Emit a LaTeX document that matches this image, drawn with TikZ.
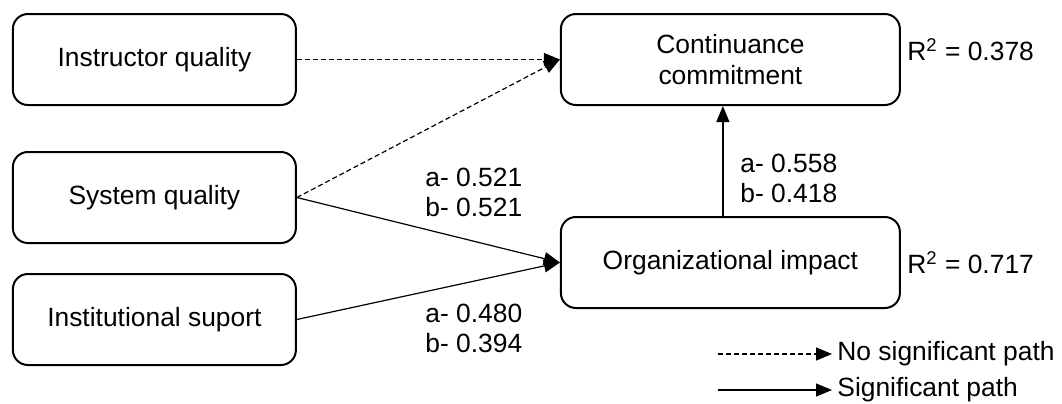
\documentclass[tikz,border=0pt]{standalone}
\usepackage{fontspec}
\setmainfont{Liberation Sans}
\usetikzlibrary{positioning}
\usetikzlibrary{arrows.meta}
\tikzset{construct/.style={rectangle,draw=black,fill=white,line width=1pt,rounded corners=7.5pt,minimum width=141.5pt,minimum height=45.5pt,align=center,font=\fontsize{13.2}{15.5}\selectfont}}
\tikzset{sig/.style={draw=black,line width=0.6pt,->}}
\tikzset{nonsig/.style={sig,dash pattern=on 2.5pt off 1.5pt}}
\tikzset{coef/.style={align=left,anchor=west,inner sep=0pt,font=\fontsize{13.2}{15}\selectfont}}
\tikzset{legend/.style={anchor=west,inner sep=2.5pt,font=\fontsize{13.2}{15}\selectfont}}

\begin{document}
\begin{tikzpicture}[>={Triangle[length=8pt,width=6.5pt]}]
  \useasboundingbox (0,0) rectangle (531pt,-201.5pt);
  \node [construct] (IQ) at (77.2pt,-29.75pt) {Instructor quality};
  \node [construct,below=22.5pt of IQ] (SQ) {System quality};
  \node [construct,below=14.5pt of SQ] (IS) {Institutional suport};
  \node [construct,minimum width=169.5pt,right=131.5pt of IQ] (CC) {Continuance\\commitment};
  \node [construct,minimum width=169.5pt,below=55pt of CC] (OI) {Organizational impact};

  \path (IQ.east) edge [nonsig] (CC.west);
  \path (SQ.east) edge [nonsig] (CC.west)
                  edge [sig] (OI.west);
  \path (IS.east) edge [sig] (OI.west);
  \path ([xshift=-3.75pt]OI.north) edge [sig] ([xshift=-3.75pt]CC.south);

  \node [coef] (SQc) at (212.5pt,-96pt) {a- 0.521\\b- 0.521};
  \node [coef] (ISc) at (212.5pt,-164pt) {a- 0.480\\b- 0.394};
  \node [coef] (OIc) at (370pt,-89pt) {a- 0.558\\b- 0.418};
  \node [coef,anchor=base west] (CCr) at (453.5pt,-30pt) {R\textsuperscript{2} = 0.378};
  \node [coef,anchor=base west] (OIr) at (453.5pt,-136.5pt) {R\textsuperscript{2} = 0.717};

  % legend
  \coordinate (nsA) at (359pt,-177pt);
  \node [legend] (nsL) at (416pt,-177pt) {No significant path};
  \draw [nonsig] (nsA) -- (nsL.west);
  \coordinate (sA) at (359pt,-195pt);
  \node [legend] (sL) at (416pt,-195pt) {Significant path};
  \draw [sig] (sA) -- (sL.west);
\end{tikzpicture}
\end{document}
